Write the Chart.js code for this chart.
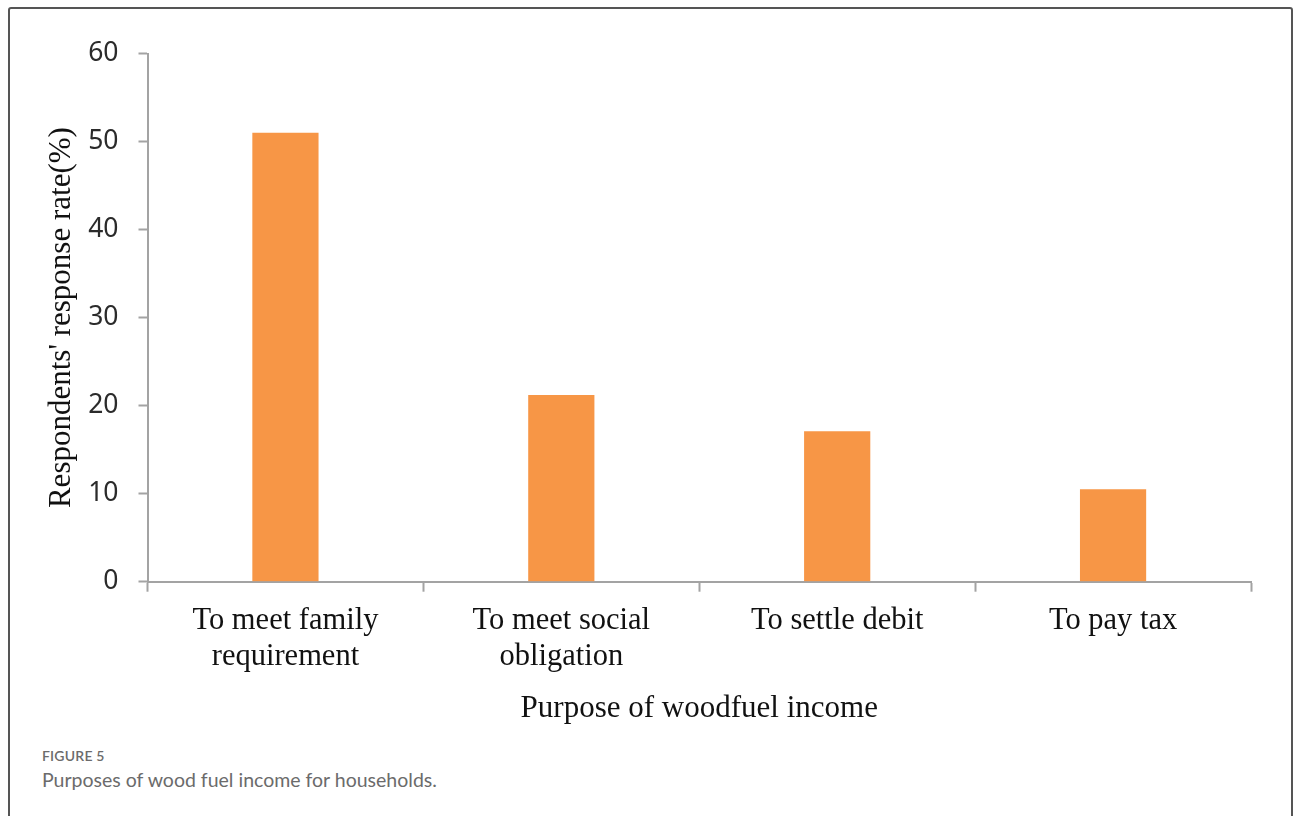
<!DOCTYPE html>
<html>
<head>
<meta charset="utf-8">
<script src="https://cdn.jsdelivr.net/npm/chart.js@4/dist/chart.umd.min.js"></script>
<style>
    html, body { margin: 0; padding: 0; background: #fff; }
    body { width: 1293px; height: 816px; position: relative; overflow: hidden; }
    .frame {
        position: absolute; left: 8px; top: 7px; width: 1285px; height: 860px;
        border: 2px solid #555; border-radius: 3px; box-sizing: border-box;
    }
    .chart-box { position: absolute; left: 10px; top: 10px; width: 1275px; height: 720px; }
    .fig-label {
        position: absolute; left: 42px; top: 747px;
        font: 600 14px Lato, "Open Sans", sans-serif; color: #6b6b6b; letter-spacing: 0.2px;
    }
    .fig-caption {
        position: absolute; left: 42px; top: 768px;
        font: 19.5px Lato, "Open Sans", sans-serif; color: #6b6b6b;
    }
</style>
</head>
<body>
<div class="frame"></div>
<div class="chart-box"><canvas id="chartPurpose"></canvas></div>
<div class="fig-label">FIGURE 5</div>
<div class="fig-caption">Purposes of wood fuel income for households.</div>

<script>
var categories = [
    ['To meet family', 'requirement'],
    ['To meet social', 'obligation'],
    'To settle debit',
    'To pay tax'
];
var responseRates = [51, 21.2, 17.1, 10.5];
var yTicks = [0, 10, 20, 30, 40, 50, 60];

var axisGray = '#a3a3a3';
var serif = '"Liberation Serif", "Times New Roman", serif';

document.addEventListener('DOMContentLoaded', function () {
    var ctx = document.getElementById('chartPurpose');
    new Chart(ctx, {
        type: 'bar',
        data: {
            labels: categories,
            datasets: [{
                label: 'Respondents',
                data: responseRates,
                backgroundColor: '#F79646',
                borderWidth: 0,
                barPercentage: 0.24,
                categoryPercentage: 1
            }]
        },
        options: {
            responsive: true,
            maintainAspectRatio: false,
            animation: false,
            layout: { padding: { left: 0, right: 34, top: 43.5, bottom: 0 } },
            plugins: { legend: { display: false }, tooltip: { enabled: false } },
            scales: {
                x: {
                    border: { color: axisGray, width: 2 },
                    grid: {
                        offset: true, drawOnChartArea: false, drawTicks: true,
                        tickLength: 10, tickColor: axisGray, tickWidth: 2
                    },
                    ticks: {
                        color: '#111', padding: 11, maxRotation: 0, autoSkip: false,
                        font: { family: serif, size: 30.5, lineHeight: 1.18 }
                    },
                    title: {
                        display: true, text: 'Purpose of woodfuel income', color: '#111',
                        font: { family: serif, size: 31, lineHeight: 1.2 },
                        padding: { top: 0, bottom: 3 }
                    },
                    afterFit: function (scale) { scale.height = 148.3; }
                },
                y: {
                    min: 0,
                    max: 60,
                    border: { color: axisGray, width: 2 },
                    grid: {
                        drawOnChartArea: false, drawTicks: true,
                        tickLength: 9, tickColor: axisGray, tickWidth: 2
                    },
                    afterBuildTicks: function (scale) {
                        scale.ticks = yTicks.map(function (v) { return { value: v }; });
                    },
                    ticks: {
                        color: '#2b2b2b', padding: 20,
                        font: { family: '"Noto Sans", "Open Sans", sans-serif', size: 26.5 }
                    },
                    title: {
                        display: true, text: "Respondents' response rate(%)", color: '#111',
                        font: { family: serif, size: 31, lineHeight: 1.2 },
                        padding: { top: 33, bottom: 0 }
                    },
                    afterFit: function (scale) { scale.width = 137.5; }
                }
            }
        }
    });
});
</script>
</body>
</html>
